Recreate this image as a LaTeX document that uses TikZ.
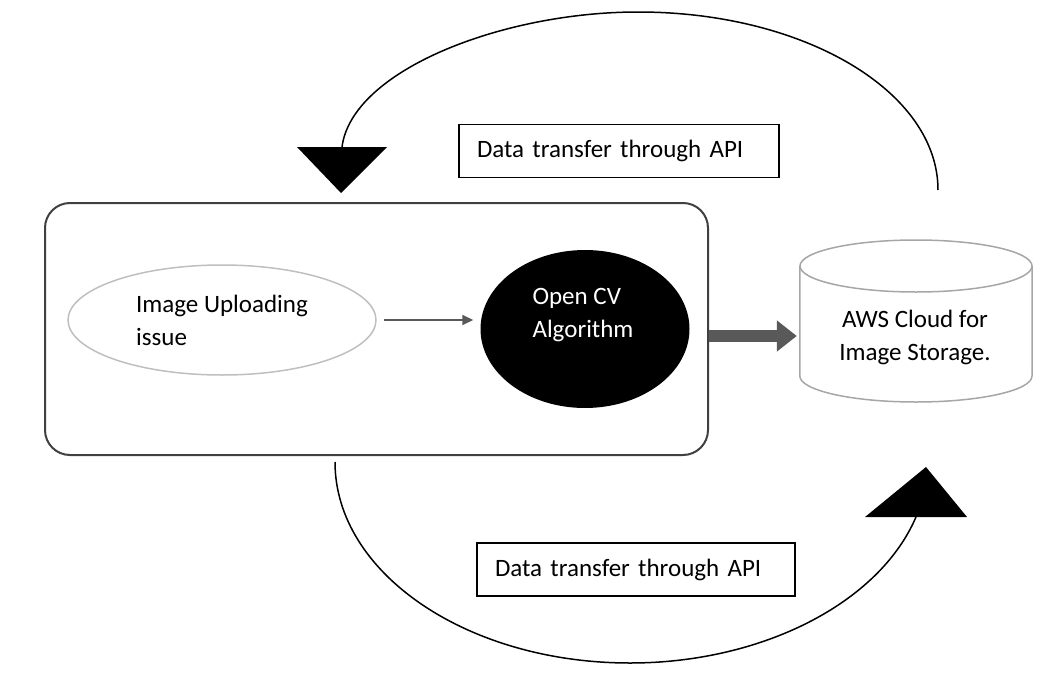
\documentclass[tikz,border=0pt]{standalone}
\usepackage{fontspec}
\setmainfont{Carlito}
\usetikzlibrary{arrows.meta,shapes.geometric}
\definecolor{boxline}{HTML}{404040}
\definecolor{arrowgray}{HTML}{595959}
\definecolor{ellline}{HTML}{BFBFBF}
\definecolor{cylline}{HTML}{A6A6A6}
\begin{document}
\begin{tikzpicture}[x=1pt,y=-1pt,
  txt/.style={font=\fontsize{25}{33}\selectfont},
  apibox/.style={txt,draw=black,line width=1.5pt,rectangle,minimum height=53pt,
    text width=284pt,inner xsep=18pt,align=left},
  flowline/.style={line width=1.5pt,draw=black},
  bigtip/.style={fill=black}]
\useasboundingbox (0,0) rectangle (1050,680);

% container
\node[draw=boxline,line width=2pt,rounded corners=25pt,minimum width=663pt,minimum height=252pt] (sys) at (376.5,329) {};
% nodes inside
\node[ellipse,draw=ellline,line width=1.5pt,minimum width=308pt,minimum height=110pt,txt,align=left] (up) at (222,320) {Image Uploading\\issue};
\node[ellipse,fill=black,minimum width=209pt,minimum height=158pt] (cv) at (585,329) {};
\node[txt,text=white,align=left] (cvtext) at (583,315) {Open CV\\Algorithm};

% storage cylinder
\node[minimum width=232pt,minimum height=162pt] (aws) at (916,321) {};
\draw[cylline,line width=1.5pt] (916,266) ellipse[x radius=116pt,y radius=26pt];
\draw[cylline,line width=1.5pt] (aws.west |- 0,266) -- (aws.west |- 0,376)
  .. controls (800,390.4) and (851.9,402) .. (916,402)
  .. controls (979.9,402) and (1032,390.4) .. (1032,376) -- (aws.east |- 0,266);
\node[txt,align=center] (awstext) at (915,337) {AWS Cloud for\\Image Storage.};

% arrows
\draw[arrowgray,line width=1.5pt,-{Triangle[length=11pt,width=10pt]},shorten <=7pt,shorten >=7pt] (up.east) -- (cv.west |- up.east);
\draw[arrowgray,line width=12pt,-{Triangle[length=20pt,width=30pt]}] (sys.east |- 0,336) -- ([xshift=-3pt]aws.west |- 0,336);

% API labels
\node[apibox] (apitop) at (619,151) {Data transfer through API};
\node[apibox,text width=282pt] (apibot) at (636,569.5) {Data transfer through API};

% top return arc
\coordinate (topstart) at (938,190);
\coordinate (topend) at (342,147);
\draw[flowline] (topstart) .. controls (938,91.7) and (804.6,12) .. (638,12)
  .. controls (503,12) and (352,70) .. (topend);
\fill[bigtip] (297,147) -- (387,147) -- (341,193) -- cycle;

% bottom arc
\coordinate (botstart) at (335,462);
\coordinate (botend) at (916,517);
\draw[flowline] (botstart) .. controls (335,573) and (467,663) .. (630,663)
  .. controls (761.6,663) and (879,603.3) .. (botend);
\fill[bigtip] (865,517) -- (967,517) -- (926,467) -- cycle;
\end{tikzpicture}
\end{document}
